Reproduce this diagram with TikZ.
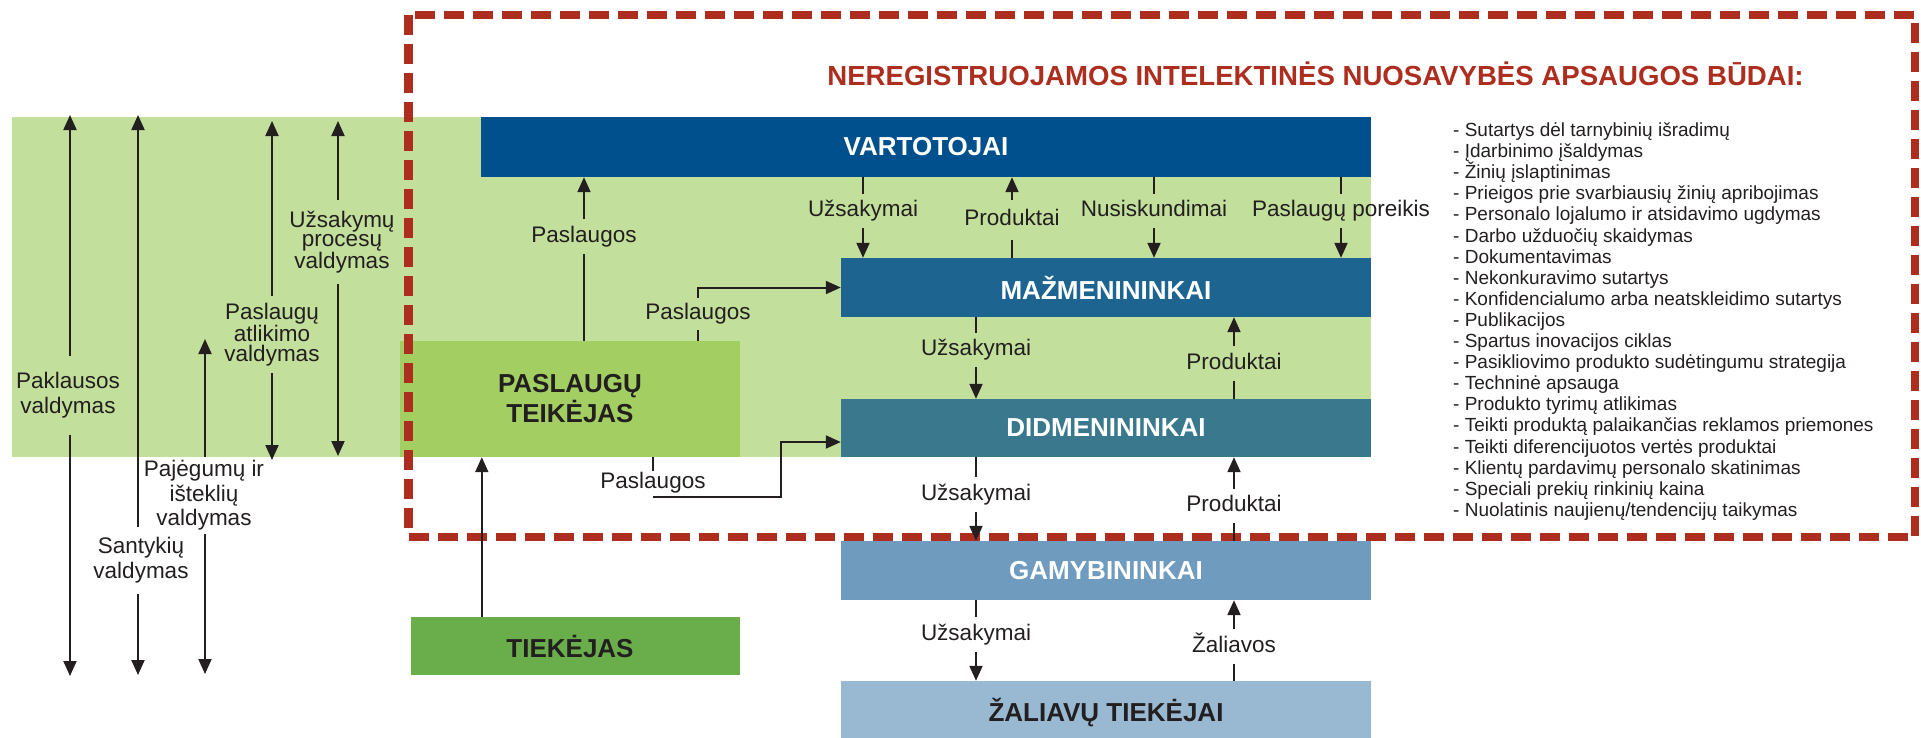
\documentclass[tikz,border=0pt]{standalone}
\usepackage{fontspec}
\setmainfont{Liberation Sans}
\usetikzlibrary{arrows.meta,calc}
\definecolor{bandgreen}{RGB}{194,223,155}
\definecolor{ptgreen}{RGB}{163,206,98}
\definecolor{tkgreen}{RGB}{106,174,75}
\definecolor{vartblue}{RGB}{0,80,141}
\definecolor{mazblue}{RGB}{29,101,144}
\definecolor{didteal}{RGB}{58,121,141}
\definecolor{gamblue}{RGB}{111,155,191}
\definecolor{zalblue}{RGB}{152,185,209}
\definecolor{dashred}{RGB}{173,46,31}
\definecolor{ink}{RGB}{35,31,32}
\tikzset{
  boxw/.style={draw=none, inner sep=0, text=white, font=\fontsize{26}{28}\selectfont\bfseries},
  boxd/.style={draw=none, inner sep=0, text=ink, font=\fontsize{26}{28}\selectfont\bfseries, align=center},
  mlab/.style={inner xsep=0, inner ysep=6.5pt, text height=16pt, text depth=5pt, text=ink, font=\fontsize{22.5}{25}\selectfont},
  llab/.style={inner xsep=0, text=ink, align=center, font=\fontsize{22.5}{25}\selectfont},
  conn/.style={draw=ink, line width=2pt},
  arr/.style={conn, -{Triangle[width=13pt,length=15pt]}},
  listitem/.style={anchor=west, inner sep=0, text height=13pt, text depth=4pt, text=ink, font=\fontsize{19}{21}\selectfont},
}
\begin{document}
\begin{tikzpicture}[x=1pt,y=-1pt]
\useasboundingbox (0,0) rectangle (1921,737);
% background band
\fill[bandgreen] (12,117) rectangle (1371,457);
% boxes
\node[boxd, fill=ptgreen, minimum width=340pt, minimum height=116pt] (pt) at (570,399) {PASLAUGŲ\\[2pt]TEIKĖJAS};
\node[boxd, fill=tkgreen, minimum width=329pt, minimum height=58pt] (tiek) at (575.5,646) {\hspace*{-11pt}TIEKĖJAS};
\node[boxw, fill=vartblue, minimum width=890pt, minimum height=60pt] (vart) at (926,147) {VARTOTOJAI};
\node[boxw, fill=mazblue, minimum width=530pt, minimum height=59pt] (maz) at (1106,287.5) {MAŽMENININKAI};
\node[boxw, fill=didteal, minimum width=530pt, minimum height=58pt] (did) at (1106,428) {DIDMENININKAI};
\node[boxw, fill=gamblue, minimum width=530pt, minimum height=59pt] (gam) at (1106,570.5) {GAMYBININKAI};
\node[boxd, fill=zalblue, minimum width=530pt, minimum height=64pt] (zal) at (1106,713) {ŽALIAVŲ TIEKĖJAI};
% dashed frame
\draw[dashred, line width=8.5pt, dash pattern=on 20pt off 9pt] (408.5,15) rectangle (1915,537);
% title
\node[inner sep=0, text=dashred, font=\fontsize{27.6}{30}\selectfont\bfseries] (title) at (1315.5,74) {NEREGISTRUOJAMOS INTELEKTINĖS NUOSAVYBĖS APSAUGOS BŪDAI:};
% list
\foreach \t [count=\i] in {
  Sutartys dėl tarnybinių išradimų,
  Įdarbinimo įšaldymas,
  Žinių įslaptinimas,
  Prieigos prie svarbiausių žinių apribojimas,
  Personalo lojalumo ir atsidavimo ugdymas,
  Darbo užduočių skaidymas,
  Dokumentavimas,
  Nekonkuravimo sutartys,
  Konfidencialumo arba neatskleidimo sutartys,
  Publikacijos,
  Spartus inovacijos ciklas,
  Pasikliovimo produkto sudėtingumu strategija,
  Techninė apsauga,
  Produkto tyrimų atlikimas,
  Teikti produktą palaikančias reklamos priemones,
  Teikti diferencijuotos vertės produktai,
  Klientų pardavimų personalo skatinimas,
  Speciali prekių rinkinių kaina,
  Nuolatinis naujienų/tendencijų taikymas}
  \node[listitem] (li\i) at (1453,{132+21.1*(\i-1)}) {- \t};
% ---- left management arrows
\coordinate (a1t) at (70,115);  \coordinate (a1b) at (70,676);
\coordinate (a2t) at (138,115); \coordinate (a2b) at (138,675);
\coordinate (a3t) at (205,339); \coordinate (a3b) at (205,674);
\coordinate (a4t) at (272,121); \coordinate (a4b) at (272,460);
\coordinate (a5t) at (338,121); \coordinate (a5b) at (338,456);
\node[llab, inner ysep=16pt] (l1) at (68,395.5) {Paklausos\\valdymas};
\node[llab, inner ysep=10.5pt] (l2) at (141,560.5) {Santykių\\valdymas};
\node[llab, inner ysep=3.8pt, font=\fontsize{22.5}{24.5}\selectfont] (l3) at (204,495.5) {Pajėgumų ir\\išteklių\\valdymas};
\node[llab, inner ysep=6.8pt, font=\fontsize{22.5}{20.5}\selectfont] (l4) at (272,334.5) {Paslaugų\\atlikimo\\valdymas};
\node[llab, inner ysep=10.8pt, font=\fontsize{22.5}{19}\selectfont] (l5) at (342,242) {Užsakymų\\procesų\\valdymas};
\draw[arr] (l1.north -| a1t) -- (a1t);
\draw[arr] (l1.south -| a1b) -- (a1b);
\draw[arr] (l2.north -| a2t) -- (a2t);
\draw[arr] (l2.south -| a2b) -- (a2b);
\draw[arr] (l3.north -| a3t) -- (a3t);
\draw[arr] (l3.south -| a3b) -- (a3b);
\draw[arr] (l4.north -| a4t) -- (a4t);
\draw[arr] (l4.south -| a4b) -- (a4b);
\draw[arr] (l5.north -| a5t) -- (a5t);
\draw[arr] (l5.south -| a5b) -- (a5b);
% ---- middle labels
\node[mlab] (ps1) at (584,236.5) {Paslaugos};
\node[mlab] (uz1) at (863,211) {Užsakymai};
\node[mlab, inner ysep=9.5pt] (pr1) at (1012,220) {Produktai};
\node[mlab] (nu1) at (1154,211) {Nusiskundimai};
\node[mlab] (pp1) at (1341,211) {Paslaugų poreikis};
\node[mlab, inner ysep=5.5pt] (ps2) at (698,314) {Paslaugos};
\node[mlab] (uz2) at (976,350) {Užsakymai};
\node[mlab] (pr2) at (1234,363.5) {Produktai};
\node[mlab] (uz3) at (976,494.5) {Užsakymai};
\node[mlab] (pr3) at (1234,506) {Produktai};
\node[mlab] (uz4) at (976,634.5) {Užsakymai};
\node[mlab] (za4) at (1234,646.5) {Žaliavos};
\node[mlab, inner ysep=1.5pt] (ps3) at (653,483) {Paslaugos};
% PT -> VART
\draw[conn] (ps1 |- pt.north) -- (ps1.south);
\draw[arr] (ps1.north) -- (ps1 |- vart.south);
% VART <-> MAZ
\draw[conn] (uz1 |- vart.south) -- (uz1.north);
\draw[arr] (uz1.south) -- (uz1 |- maz.north);
\draw[conn] (pr1 |- maz.north) -- (pr1.south);
\draw[arr] (pr1.north) -- (pr1 |- vart.south);
\draw[conn] (nu1 |- vart.south) -- (nu1.north);
\draw[arr] (nu1.south) -- (nu1 |- maz.north);
\draw[conn] (pp1 |- vart.south) -- (pp1.north);
\draw[arr] (pp1.south) -- (pp1 |- maz.north);
% PT -> MAZ
\draw[conn] (ps2 |- pt.north) -- (ps2.south);
\draw[arr] (ps2.north) |- (maz.west);
% MAZ <-> DID
\draw[conn] (uz2 |- maz.south) -- (uz2.north);
\draw[arr] (uz2.south) -- (uz2 |- did.north);
\draw[conn] (pr2 |- did.north) -- (pr2.south);
\draw[arr] (pr2.north) -- (pr2 |- maz.south);
% DID <-> GAM
\draw[conn] (uz3 |- did.south) -- (uz3.north);
\draw[arr] (uz3.south) -- (uz3 |- gam.north);
\draw[conn] (pr3 |- gam.north) -- (pr3.south);
\draw[arr] (pr3.north) -- (pr3 |- did.south);
% GAM <-> ZAL
\draw[conn] (uz4 |- gam.south) -- (uz4.north);
\draw[arr] (uz4.south) -- (uz4 |- zal.north);
\draw[conn] (za4 |- zal.north) -- (za4.south);
\draw[arr] (za4.north) -- (za4 |- gam.south);
% PT -> DID
\draw[conn] (ps3 |- pt.south) -- (ps3.north);
\draw[arr] ([yshift=-2pt]ps3.south) -- ++(128,0) |- ([yshift=-14pt]did.west);
% TIEK -> PT
\draw[arr] ([xshift=71pt]tiek.north west) -- ([xshift=71pt]tiek.north west |- pt.south);
\end{tikzpicture}
\end{document}
